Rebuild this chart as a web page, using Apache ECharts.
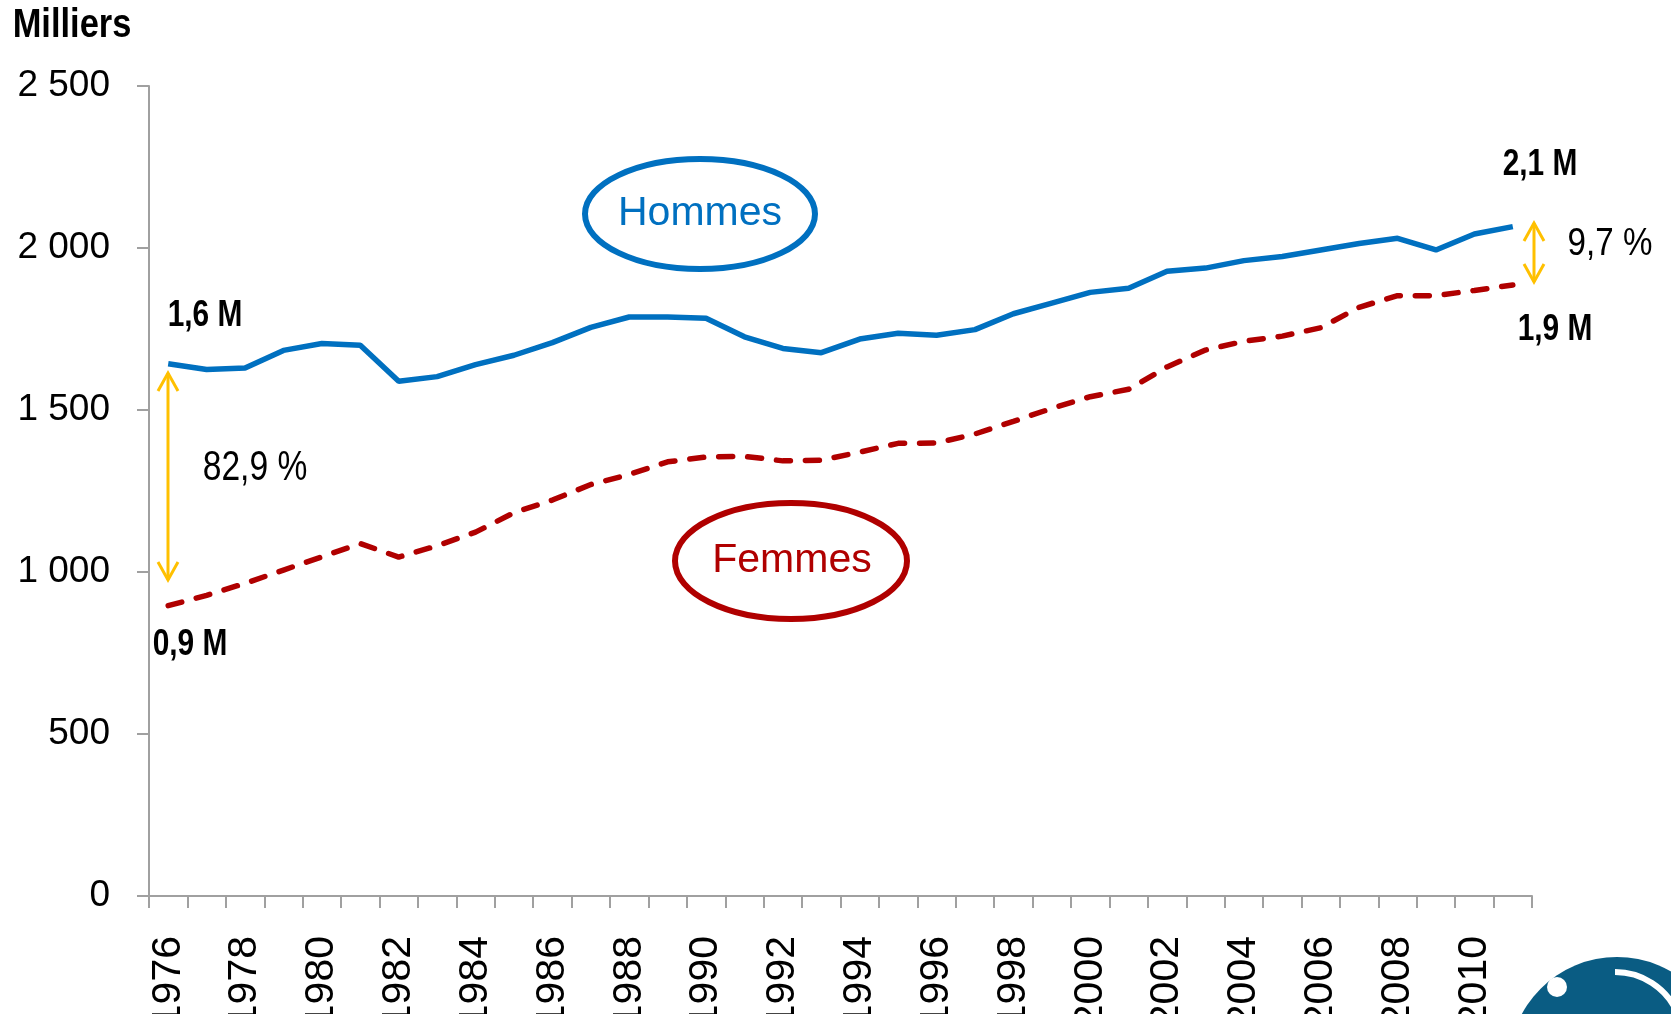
<!DOCTYPE html>
<html>
<head>
<meta charset="utf-8">
<title>Hommes / Femmes</title>
<script src="https://cdn.jsdelivr.net/npm/echarts@6/dist/echarts.min.js"></script>
<style>
  html, body { margin: 0; padding: 0; background: #fff; }
  #main { width: 1671px; height: 1014px; }
</style>
</head>
<body>
<div id="main"></div>
<script>
// années 1976 -> 2011
var years = ['1976','1977','1978','1979','1980','1981','1982','1983','1984','1985',
  '1986','1987','1988','1989','1990','1991','1992','1993','1994','1995',
  '1996','1997','1998','1999','2000','2001','2002','2003','2004','2005',
  '2006','2007','2008','2009','2010','2011'];

// milliers
var hommes = [1643, 1625, 1630, 1684, 1705, 1700, 1589, 1603, 1640, 1669,
  1708, 1755, 1787, 1787, 1783, 1726, 1690, 1677, 1719, 1737,
  1731, 1748, 1797, 1830, 1863, 1876, 1928, 1938, 1961, 1974,
  1994, 2014, 2030, 1994, 2043, 2066];

var femmes = [896, 928, 965, 1006, 1047, 1088, 1046, 1081, 1123, 1183,
  1222, 1270, 1301, 1340, 1355, 1357, 1343, 1345, 1370, 1397,
  1398, 1426, 1465, 1505, 1541, 1564, 1633, 1685, 1712, 1728,
  1754, 1817, 1853, 1853, 1869, 1886];

var font = '"Liberation Sans", Arial, sans-serif';
var blue = '#0070C0';
var red = '#B00000';
var yellow = '#FFC000';

var myChart = echarts.init(document.getElementById('main'));

// texte un peu resserré (la police étroite n'est pas dispo)
function label(text, x, y, size, bold, sx) {
  return {
    type: 'text', x: x, y: y, z: 10,
    scaleX: sx || 1,
    style: {
      text: text,
      font: (bold ? 'bold ' : '') + size + 'px ' + font,
      fill: '#000',
      align: 'center',
      verticalAlign: 'middle'
    }
  };
}

// flèche verticale double, pointes ouvertes
function arrow(x, y1, y2) {
  var s = { stroke: yellow, lineWidth: 3, fill: 'none' };
  return [
    { type: 'line', z: 10, shape: { x1: x, y1: y1, x2: x, y2: y2 }, style: s },
    { type: 'polyline', z: 10, shape: { points: [[x - 10, y1 + 18], [x, y1], [x + 10, y1 + 18]] }, style: s },
    { type: 'polyline', z: 10, shape: { points: [[x - 10, y2 - 18], [x, y2], [x + 10, y2 - 18]] }, style: s }
  ];
}

var option = {
  animation: false,
  grid: {
    left: 149,
    right: 139,
    top: 86,
    bottom: 118,
    containLabel: false,
    outerBoundsMode: 'none'
  },
  xAxis: {
    type: 'category',
    data: years,
    boundaryGap: true,
    axisLine: { lineStyle: { color: '#a0a0a0', width: 2 } },
    axisTick: { show: true, interval: 0, length: 12, lineStyle: { color: '#a0a0a0', width: 2 } },
    axisLabel: {
      interval: 1,
      rotate: 90,
      margin: 40,
      color: '#000',
      fontSize: 41,
      fontFamily: font
    },
    splitLine: { show: false }
  },
  yAxis: {
    type: 'value',
    min: 0,
    max: 2500,
    interval: 500,
    axisLine: { show: true, lineStyle: { color: '#a0a0a0', width: 2 } },
    axisTick: { show: true, length: 12, lineStyle: { color: '#a0a0a0', width: 2 } },
    axisLabel: {
      margin: 39,
      color: '#000',
      fontSize: 37,
      fontFamily: font,
      formatter: function (v) {
        return String(v).replace(/\B(?=(\d{3})+(?!\d))/g, ' ');
      }
    },
    splitLine: { show: false }
  },
  series: [
    {
      name: 'Hommes',
      type: 'line',
      data: hommes,
      symbol: 'none',
      lineStyle: { color: blue, width: 5.5 }
    },
    {
      name: 'Femmes',
      type: 'line',
      data: femmes,
      symbol: 'none',
      lineStyle: { color: red, width: 5.5, type: [14, 15], cap: 'round' }
    }
  ],
  graphic: {
    elements: [
      label('Milliers', 72, 26, 41, true, 0.84),
      { type: 'ellipse', shape: { cx: 700, cy: 214, rx: 115, ry: 55 },
        style: { fill: 'none', stroke: blue, lineWidth: 6 } },
      { type: 'text', x: 700, y: 214,
        style: { text: 'Hommes', font: '41px ' + font, fill: blue, align: 'center', verticalAlign: 'middle' } },
      { type: 'ellipse', shape: { cx: 791, cy: 561, rx: 116, ry: 58 },
        style: { fill: 'none', stroke: red, lineWidth: 6 } },
      { type: 'text', x: 792, y: 561,
        style: { text: 'Femmes', font: '41px ' + font, fill: red, align: 'center', verticalAlign: 'middle' } },
      label('1,6 M', 205, 316, 36, true, 0.83),
      label('0,9 M', 190, 645, 36, true, 0.83),
      label('82,9 %', 255, 468, 42, false, 0.8),
      label('2,1 M', 1540, 165, 36, true, 0.83),
      label('1,9 M', 1555, 330, 36, true, 0.83),
      label('9,7 %', 1610, 244, 39, false, 0.85)
    ].concat(arrow(168, 373, 580)).concat(arrow(1534, 223, 282)).concat([
      // logo
      { type: 'circle', shape: { cx: 1617, cy: 1065, r: 108 }, style: { fill: '#0A5C83' } },
      { type: 'circle', shape: { cx: 1557, cy: 987, r: 10 }, style: { fill: '#fff' } },
      { type: 'arc', shape: { cx: 1615, cy: 1040, r: 68, startAngle: -Math.PI / 2, endAngle: -0.42, clockwise: true },
        style: { stroke: '#fff', lineWidth: 6, fill: 'none' } }
    ])
  }
};

myChart.setOption(option);
</script>
</body>
</html>
